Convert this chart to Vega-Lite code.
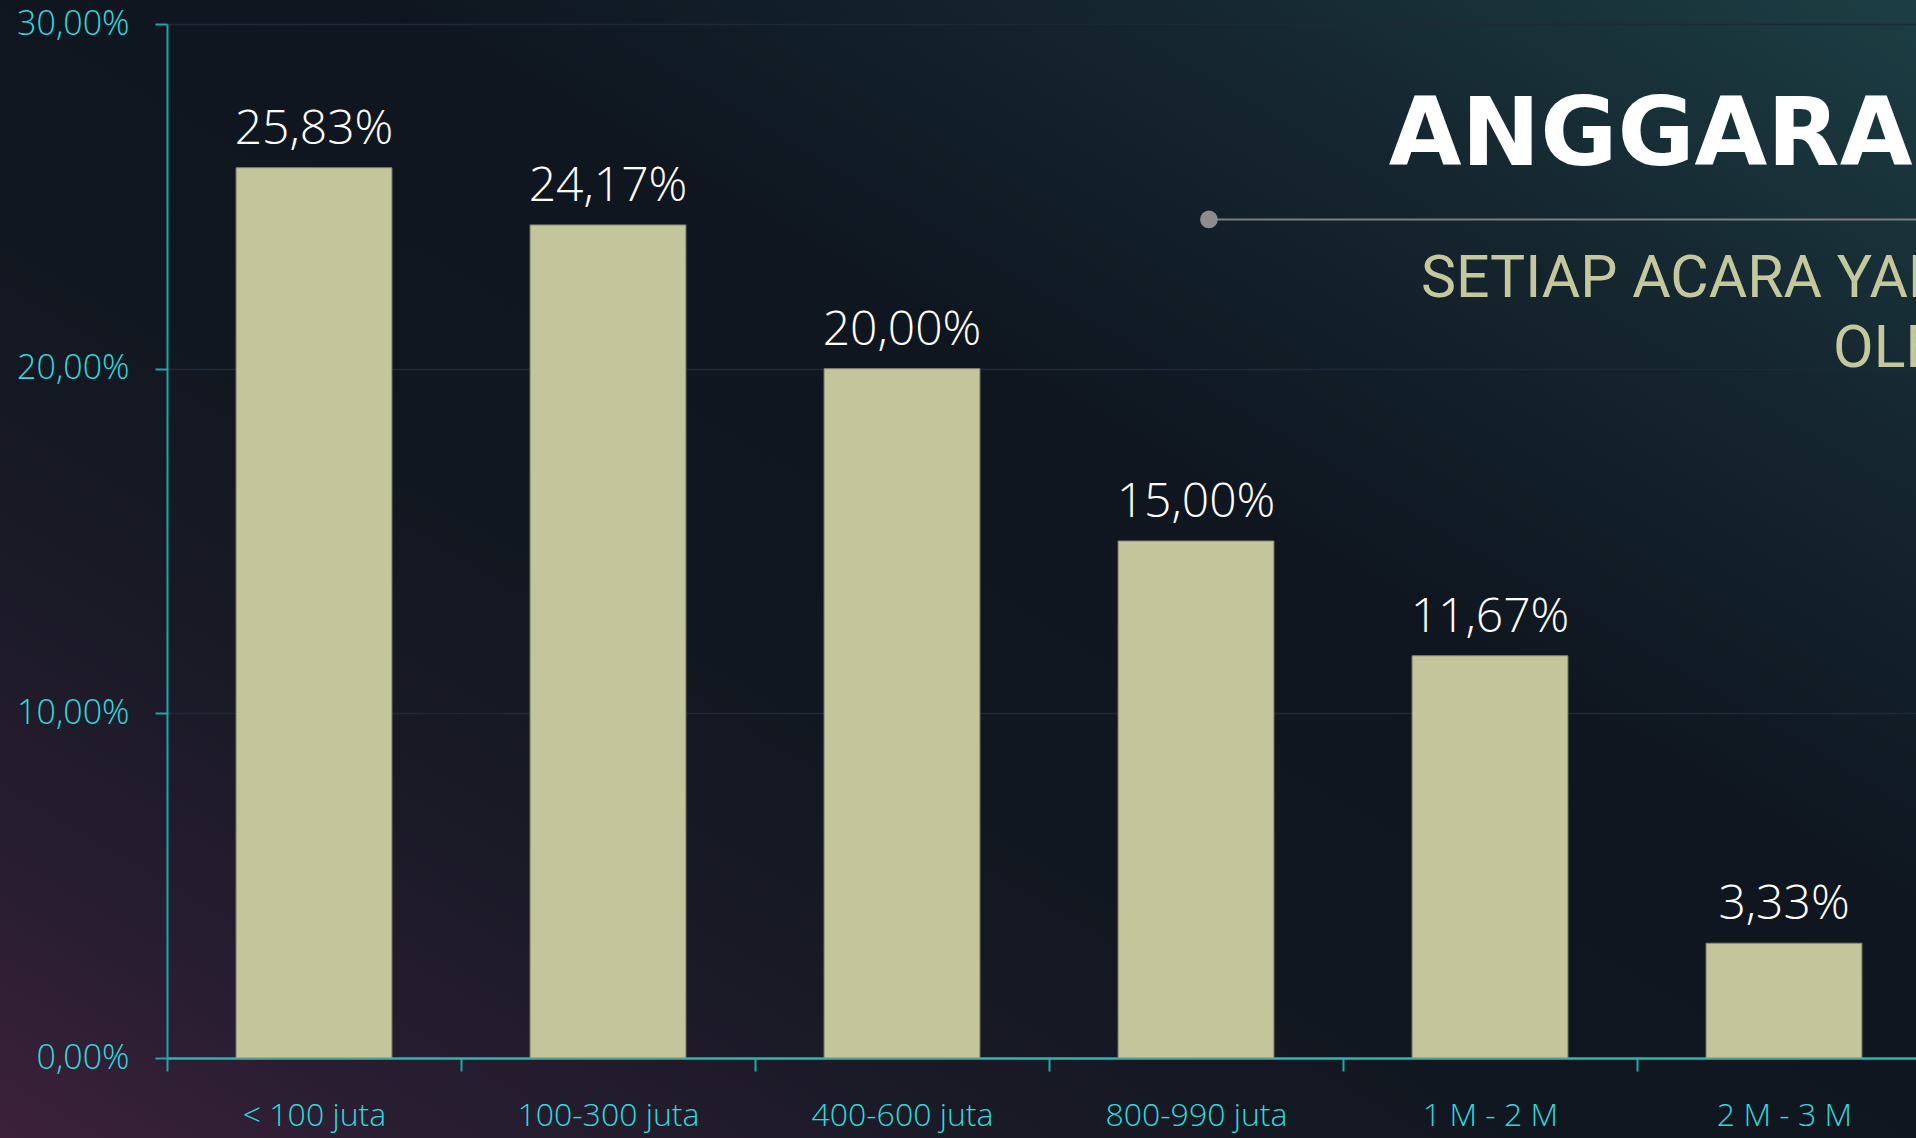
{
  "$schema": "https://vega.github.io/schema/vega-lite/v6.json",
  "width": 1916,
  "height": 1138,
  "autosize": {"type": "none"},
  "padding": 0,
  "background": "#10161f",
  "config": {
    "locale": {"number": {"decimal": ",", "thousands": ".", "grouping": [3], "currency": ["", ""]}},
    "view": {
      "stroke": null,
      "fill": {
        "gradient": "linear", "x1": 0, "y1": 1, "x2": 1, "y2": 0,
        "stops": [
          {"offset": 0, "color": "#3c2139"},
          {"offset": 0.12, "color": "#281d31"},
          {"offset": 0.25, "color": "#1b1a27"},
          {"offset": 0.4, "color": "#111720"},
          {"offset": 0.6, "color": "#0f1620"},
          {"offset": 0.8, "color": "#15262f"},
          {"offset": 1, "color": "#1c3e44"}
        ]
      }
    },
    "font": "Open Sans"
  },
  "data": {
    "values": [
      {"kategori": "< 100 juta", "persen": 0.2583},
      {"kategori": "100-300 juta", "persen": 0.2417},
      {"kategori": "400-600 juta", "persen": 0.2},
      {"kategori": "800-990 juta", "persen": 0.15},
      {"kategori": "1 M - 2 M", "persen": 0.1167},
      {"kategori": "2 M - 3 M", "persen": 0.0333}
    ]
  },
  "layer": [
    {
      "mark": {"type": "bar", "color": "#c3c69b", "stroke": "#878875", "strokeWidth": 1, "width": {"band": 0.53}},
      "encoding": {
        "x": {
          "field": "kategori", "type": "nominal",
          "scale": {"domain": ["< 100 juta", "100-300 juta", "400-600 juta", "800-990 juta", "1 M - 2 M", "2 M - 3 M"], "range": [167, 1931], "paddingInner": 0, "paddingOuter": 0},
          "axis": {
            "title": null, "orient": "bottom", "offset": -80, "tickBand": "extent", "grid": false,
            "domainColor": "#26b8b5", "domainWidth": 2.5, "tickColor": "#1fa9a9", "tickWidth": 2, "tickSize": 13,
            "labelColor": "#2ed9dc", "labelFontSize": 32, "labelFont": "Open Sans", "labelFontWeight": 300, "labelPadding": 29, "labelAngle": 0, "labelLimit": 0
          }
        },
        "y": {
          "field": "persen", "type": "quantitative",
          "scale": {"domain": [0, 0.3], "range": [1058, 24], "nice": false, "zero": true},
          "axis": {
            "title": null, "orient": "left", "offset": -167, "values": [0, 0.1, 0.2, 0.3], "format": ".2%",
            "grid": true, "gridColor": "#1d2838", "gridWidth": 1.5,
            "domainColor": "#1aa9a9", "domainWidth": 2, "tickColor": "#1aa9a9", "tickWidth": 2, "tickSize": 12,
            "labelColor": "#2ed9dc", "labelFontSize": 34, "labelFont": "Open Sans", "labelFontWeight": 300, "labelPadding": 26
          }
        }
      }
    },
    {
      "mark": {"type": "text", "color": "#ffffff", "fontSize": 48, "fontWeight": 300, "font": "Open Sans", "baseline": "alphabetic", "dy": -24},
      "encoding": {
        "x": {"field": "kategori", "type": "nominal"},
        "y": {"field": "persen", "type": "quantitative"},
        "text": {"field": "persen", "type": "quantitative", "format": ".2%"}
      }
    },
    {
      "data": {"values": [{}]},
      "mark": {"type": "rule", "color": "#7e7e7e", "strokeWidth": 2},
      "encoding": {
        "x": {"datum": "800-990 juta", "bandPosition": 0.544},
        "x2": {"datum": "2 M - 3 M", "bandPosition": 1},
        "y": {"datum": 0.2433}
      }
    },
    {
      "data": {"values": [{}]},
      "mark": {"type": "circle", "color": "#8c8c8c", "opacity": 1, "size": 314},
      "encoding": {
        "x": {"datum": "800-990 juta", "bandPosition": 0.544},
        "y": {"datum": 0.2433}
      }
    },
    {
      "data": {"values": [{}]},
      "mark": {"type": "text", "text": "ANGGARAN", "color": "#ffffff", "fontSize": 94, "fontWeight": "bold", "font": "DejaVu Sans", "align": "left", "baseline": "alphabetic"},
      "encoding": {
        "x": {"datum": "1 M - 2 M", "bandPosition": 0.156},
        "y": {"datum": 0.2591}
      }
    },
    {
      "data": {"values": [{}]},
      "mark": {"type": "text", "text": "SETIAP ACARA YANG", "color": "#c5c79c", "fontSize": 59, "font": "Roboto", "align": "left", "baseline": "alphabetic"},
      "encoding": {
        "x": {"datum": "1 M - 2 M", "bandPosition": 0.265},
        "y": {"datum": 0.2208}
      }
    },
    {
      "data": {"values": [{}]},
      "mark": {"type": "text", "text": "OLEH", "color": "#c5c79c", "fontSize": 59, "font": "Roboto", "align": "left", "baseline": "alphabetic"},
      "encoding": {
        "x": {"datum": "2 M - 3 M", "bandPosition": 0.667},
        "y": {"datum": 0.2005}
      }
    }
  ]
}
